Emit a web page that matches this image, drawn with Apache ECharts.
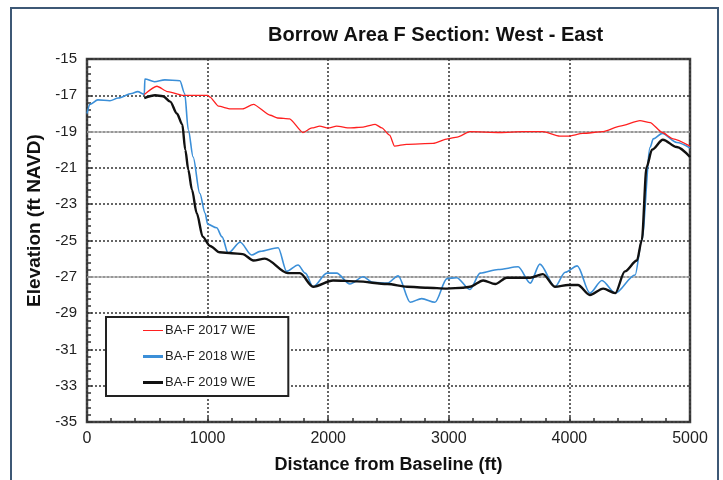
<!DOCTYPE html>
<html>
<head>
<meta charset="utf-8">
<script src="https://cdn.jsdelivr.net/npm/echarts@6/dist/echarts.min.js"></script>
<style>html,body{margin:0;padding:0;background:#fff;}#c{width:723px;height:480px;}</style>
</head>
<body>
<div id="c"></div>
<script>
// ---- data ----
const seriesNames = ['BA-F 2017 W/E', 'BA-F 2018 W/E', 'BA-F 2019 W/E'];

const dist2017 = [475,580,670,790,1000,1020,1090,1190,1290,1380,1520,1580,1680,1790,1865,1930,2000,2070,2180,2290,2390,2445,2510,2550,2650,2870,2990,3070,3175,3425,3615,3780,3920,3990,4110,4280,4420,4585,4670,4770,4860,5000];
const elev2017 = [-16.95,-16.5,-16.8,-17.0,-17.0,-17.1,-17.6,-17.75,-17.75,-17.5,-18.1,-18.25,-18.3,-19.05,-18.8,-18.7,-18.8,-18.7,-18.8,-18.75,-18.6,-18.8,-19.2,-19.8,-19.7,-19.65,-19.4,-19.3,-19.0,-19.05,-19.0,-19.0,-19.25,-19.25,-19.1,-19.0,-18.7,-18.4,-18.5,-19.05,-19.4,-19.8];

const dist2018 = [0,25,90,190,260,370,420,475,480,560,645,770,810,840,880,935,980,1000,1075,1120,1170,1270,1365,1435,1585,1655,1750,1810,1875,1990,2070,2180,2290,2370,2490,2580,2680,2775,2885,2985,3065,3175,3260,3410,3575,3675,3755,3880,3965,4065,4170,4270,4380,4545,4600,4670,4695,4770,4890,5000];
const elev2018 = [-18.0,-17.5,-17.25,-17.3,-17.15,-16.9,-16.8,-16.95,-16.1,-16.25,-16.15,-16.2,-16.9,-18.9,-20.4,-22.4,-23.5,-24.1,-24.3,-24.8,-25.7,-25.1,-25.8,-25.6,-25.4,-26.7,-26.35,-26.8,-27.55,-26.8,-26.8,-27.4,-27.0,-27.3,-27.35,-26.95,-28.4,-28.2,-28.4,-27.1,-27.05,-27.7,-26.8,-26.6,-26.45,-27.35,-26.3,-27.55,-26.75,-26.4,-27.9,-27.2,-27.9,-26.9,-25.0,-19.85,-19.4,-19.1,-19.6,-19.9];

const dist2019 = [475,565,630,690,745,790,815,840,870,910,960,1020,1100,1200,1290,1380,1475,1665,1765,1875,2040,2240,2490,2655,2820,2985,3120,3175,3285,3385,3480,3675,3780,3880,3990,4070,4170,4280,4380,4460,4560,4600,4640,4685,4775,4890,5000];
const elev2019 = [-17.15,-17.0,-17.05,-17.35,-18.0,-18.6,-20.0,-21.1,-22.2,-23.5,-24.8,-25.3,-25.65,-25.7,-25.75,-26.1,-26.0,-26.8,-26.8,-27.55,-27.2,-27.25,-27.4,-27.55,-27.6,-27.65,-27.6,-27.55,-27.2,-27.4,-27.05,-27.05,-26.85,-27.55,-27.45,-27.45,-28.0,-27.65,-27.9,-26.7,-26.1,-25.0,-20.95,-20.0,-19.45,-19.85,-20.4];

const xTicks = {min: 0, max: 5000, step: 1000};
const yTicks = {min: -35, max: -15, step: 2};
const refLines = [-19, -27];

const titleText = 'Borrow Area F Section: West - East';
const xName = 'Distance from Baseline (ft)';
const yName = 'Elevation (ft NAVD)';

// ---- chart ----
const zip = (xs, ys) => xs.map((x, i) => [x, ys[i]]);
const FONT = 'Liberation Sans, Arial, sans-serif';
const colors = ['#ff2020', '#3b8fd8', '#111111'];
const widths = [1.3, 1.6, 2.4];
const legendIcons = [
  'path://M0,0 L20,0 L20,1 L0,1 Z',
  'path://M0,0 L20,0 L20,3 L0,3 Z',
  'path://M0,0 L20,0 L20,3 L0,3 Z'
];

const chart = echarts.init(document.getElementById('c'), null, {renderer: 'canvas'});

const series = [
  {name: seriesNames[0], data: zip(dist2017, elev2017)},
  {name: seriesNames[1], data: zip(dist2018, elev2018)},
  {name: seriesNames[2], data: zip(dist2019, elev2019)}
].map((s, i) => ({
  type: 'line',
  name: s.name,
  data: s.data,
  xAxisIndex: 0,
  yAxisIndex: 0,
  symbol: 'none',
  smooth: i === 0 ? 0.2 : 0.3,
  smoothMonotone: 'x',
  z: 5 + (i === 2 ? 1 : i === 1 ? 0 : 2),
  lineStyle: {color: colors[i], width: widths[i]},
  itemStyle: {color: colors[i]}
}));

series[0].markLine = {
  silent: true,
  symbol: 'none',
  label: {show: false},
  z: 1,
  lineStyle: {color: '#a8a8a8', type: 'solid', width: 1.6},
  data: refLines.map(v => ({yAxis: v}))
};

chart.setOption({
  animation: false,
  backgroundColor: '#fff',
  textStyle: {fontFamily: FONT},
  title: {
    text: titleText,
    left: 268, top: 25, padding: 0,
    textStyle: {fontFamily: FONT, fontSize: 20, fontWeight: 'bold', color: '#111'}
  },
  graphic: [{
    type: 'rect', silent: true, z: -1,
    shape: {x: 11, y: 8, width: 707, height: 480},
    style: {fill: 'none', stroke: '#3d5875', lineWidth: 2}
  }],
  grid: {
    left: 87, right: 33, top: 59, bottom: 58,
    show: true, borderColor: '#444', borderWidth: 2.5, backgroundColor: 'transparent'
  },
  legend: {
    orient: 'vertical',
    left: 106, top: 317,
    padding: [7, 33, 7, 37],
    itemGap: 13,
    itemWidth: 20, itemHeight: 14,
    backgroundColor: '#fff',
    borderColor: '#222', borderWidth: 2,
    textStyle: {fontFamily: FONT, fontSize: 13, color: '#222', padding: [0, 0, 0, -3]},
    data: seriesNames.map((n, i) => ({name: n, icon: legendIcons[i], itemStyle: {color: colors[i]}}))
  },
  xAxis: [{
    type: 'value',
    min: xTicks.min, max: xTicks.max, interval: xTicks.step,
    name: xName, nameLocation: 'middle', nameGap: 34,
    nameTextStyle: {fontFamily: FONT, fontSize: 18, fontWeight: 'bold', color: '#111'},
    axisLine: {show: false},
    axisTick: {show: true, inside: true, length: 5, lineStyle: {color: '#333', width: 1.5}},
    minorTick: {show: true, splitNumber: 5, length: 4, lineStyle: {color: '#333', width: 1.5}},
    axisLabel: {fontFamily: FONT, fontSize: 16, color: '#222', margin: 9, formatter: v => String(v)},
    splitLine: {show: true, lineStyle: {color: '#333', type: [2, 2], width: 1.5}},
    minorSplitLine: {show: false}
  }],
  yAxis: [{
    type: 'value',
    min: yTicks.min, max: yTicks.max,
    show: false,
    splitLine: {show: false}
  }, {
    type: 'value',
    position: 'left',
    min: yTicks.min + 1, max: yTicks.max + 1, interval: yTicks.step,
    name: yName, nameLocation: 'middle', nameGap: 43,
    nameTextStyle: {fontFamily: FONT, fontSize: 19, fontWeight: 'bold', color: '#111', padding: [0, 0, 0, 40]},
    axisLine: {show: false},
    axisTick: {show: true, inside: true, length: 5, lineStyle: {color: '#333', width: 1.5}},
    minorTick: {show: true, splitNumber: 5, length: 4, lineStyle: {color: '#333', width: 1.5}},
    axisLabel: {fontFamily: FONT, fontSize: 15, color: '#222', margin: 10, formatter: v => String(Math.round(v - 1))},
    splitLine: {show: true, lineStyle: {color: '#333', type: [2, 2], width: 1.5}}
  }],
  series: series
});
</script>
</body>
</html>
